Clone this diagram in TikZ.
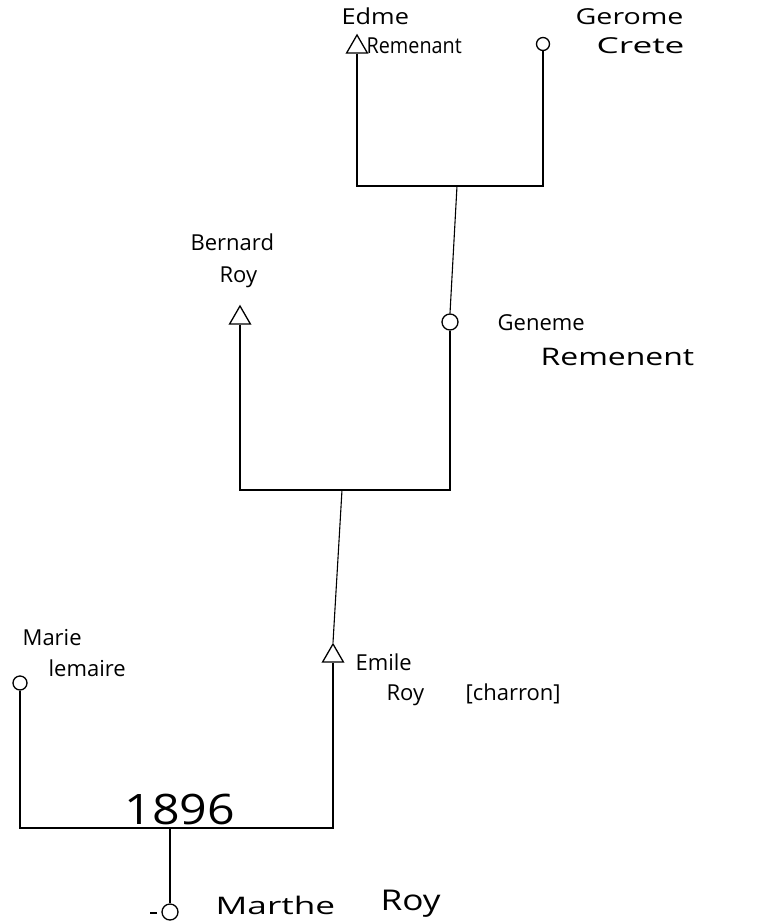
\documentclass[tikz,border=0pt]{standalone}
\usepackage{fontspec}
\setmainfont{Open Sans}
\usetikzlibrary{shapes.geometric}
\begin{document}
\begin{tikzpicture}[x=1pt,y=-1pt,
  line width=1.3pt,
  male/.style={draw,regular polygon,regular polygon sides=3,minimum size=24pt,inner sep=0pt},
  female/.style={draw,circle,minimum size=#1,inner sep=0pt},
  female/.default=14pt,
  lbl/.style={font=\fontsize{22}{24}\selectfont,inner sep=0pt,anchor=base west},
  link/.style={line width=1.1pt}]
\fill[white] (0,0) rectangle (757,922);
\useasboundingbox (0,0) rectangle (757,922);
% generation 1
\node[male] (t1) at (357,47) {};
\node[female=13pt] (c1) at (543,44) {};
\node[lbl] (edme) at (341,24) {\scalebox{1.15}[1]{Edme}};
\node[lbl] (rem1) at (366,53) {\scalebox{0.9}[1]{Remenant}};
\node[lbl] (ger) at (575,24) {\scalebox{1.3}[1]{Gerome}};
\node[lbl] (crete) at (596,53) {\scalebox{1.6}[1]{Crete}};
\coordinate (m1) at (457,186);
\draw[link] (t1.south) |- (c1.south |- m1) -- (c1.south);
% generation 2
\node[male] (t2) at (240,318) {};
\node[female=16pt] (c2) at (450,322) {};
\node[lbl] (bern) at (190,250) {Bernard};
\node[lbl] (roy1) at (219,282) {Roy};
\node[lbl] (gen) at (497,330) {Geneme};
\node[lbl] (rem2) at (540,365) {\scalebox{1.45}[1.1]{Remenent}};
\draw[link] (m1) -- (c2.north);
\coordinate (m2) at (342,490);
\draw[link] (t2.south) |- (c2.south |- m2) -- (c2.south);
% generation 3
\node[male] (t3) at (333,656) {};
\node[female=14pt] (c4) at (20,683) {};
\node[lbl] (marie) at (22,645) {Marie};
\node[lbl] (lem) at (48,676) {lemaire};
\node[lbl] (emile) at (355,670) {Emile};
\node[lbl] (roy2) at (386,700) {Roy};
\node[lbl] (char) at (465,700) {[charron]};
\draw[link] (m2) -- (t3.north);
\coordinate (m3) at (170,828);
\draw[link] (c4.south) |- (t3.south |- m3) -- (t3.south);
\node[font=\fontsize{42}{46}\selectfont,inner sep=0pt,anchor=base west] (yr) at (124,824) {\scalebox{1.15}[1]{1896}};
% generation 4
\node[female=16pt] (c5) at (170,912) {};
\draw[link] (m3) -- (c5.north);
\coordinate (dash) at (157,913);
\draw[link] (dash) -- ++(-7,0);
\node[lbl] (marthe) at (215,914) {\scalebox{1.6}[1.1]{Marthe}};
\node[lbl] (roy3) at (380,910) {\scalebox{1.6}[1.3]{Roy}};
\end{tikzpicture}
\end{document}
